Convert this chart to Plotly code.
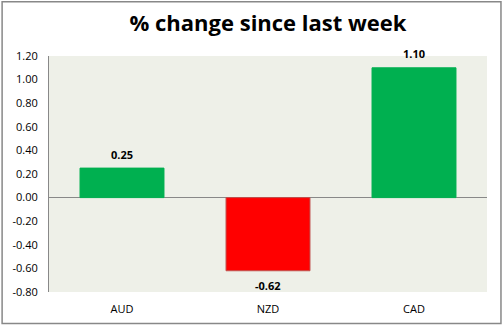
import plotly.graph_objects as go

categories = ["AUD", "NZD", "CAD"]
values = [0.25, -0.62, 1.10]
bar_colors = ["#00B050", "#FF0000", "#00B050"]
line_colors = ["#00B050", "#C0504D", "#00B050"]
tick_vals = [-0.8, -0.6, -0.4, -0.2, 0.0, 0.2, 0.4, 0.6, 0.8, 1.0, 1.2]
tick_text = ["-0.80", "-0.60", "-0.40", "-0.20", "0.00", "0.20", "0.40", "0.60", "0.80", "1.00", "1.20"]

W, H = 502, 328
L, R, T, B = 48, 15, 56, 33
pw, ph = W - L - R, H - T - B

fig = go.Figure(go.Bar(
    x=categories, y=values,
    marker=dict(color=bar_colors, line=dict(color=line_colors, width=1)),
    width=0.575,
))

for c, v in zip(categories, values):
    fig.add_annotation(x=c, y=v, text=f"<b>{v:.2f}</b>", showarrow=False,
                       yanchor="middle", yshift=14 if v >= 0 else -15,
                       font=dict(family="Open Sans", size=11, color="#000000"))

fig.update_layout(
    width=W, height=H,
    margin=dict(l=L, r=R, t=T, b=B),
    paper_bgcolor="white",
    plot_bgcolor="#EEF0E8",
    title=dict(text="<b>% change since last week</b>", x=0.5, xref="paper",
               xanchor="center", y=1 - 23 / H, yanchor="middle",
               font=dict(family="Open Sans", size=22, color="#000000")),
    showlegend=False,
    xaxis=dict(showgrid=False, showline=False, ticks="", ticklabelstandoff=9,
               tickfont=dict(family="Open Sans", size=11, color="#000000")),
    yaxis=dict(range=[-0.8, 1.2], tickvals=tick_vals, ticktext=tick_text,
               showgrid=False, showline=True, linecolor="#888888", linewidth=1,
               zeroline=True, zerolinecolor="#888888", zerolinewidth=1,
               ticks="", ticklabelstandoff=8,
               tickfont=dict(family="Open Sans", size=11, color="#000000")),
    shapes=[dict(type="rect", xref="paper", yref="paper",
                 x0=(-L + 1) / pw, x1=(pw + R - 1) / pw,
                 y0=(-B + 1) / ph, y1=(ph + T - 1) / ph,
                 line=dict(color="#888888", width=1.5), layer="above")],
)

fig.write_html("out.html")
